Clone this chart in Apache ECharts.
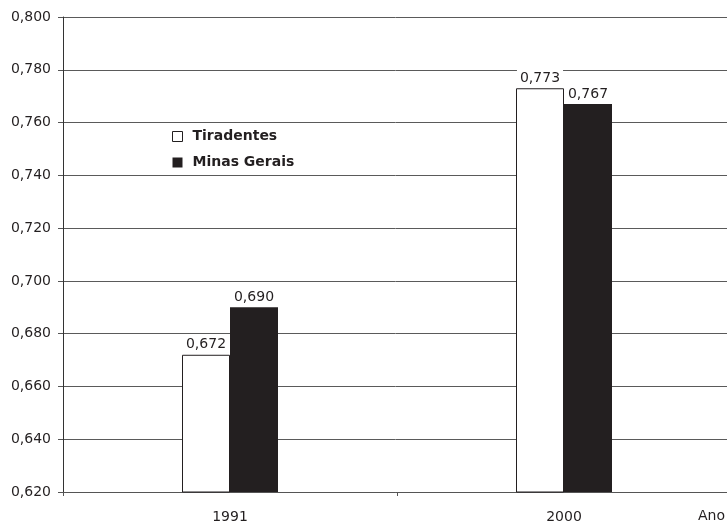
<!DOCTYPE html>
<html>
<head>
<meta charset="utf-8">
<script src="https://cdn.jsdelivr.net/npm/echarts@6/dist/echarts.min.js"></script>
<style>
  html, body { margin: 0; padding: 0; background: #fff; }
  #chart { width: 727px; height: 527px; }
</style>
</head>
<body>
<div id="chart"></div>
<script>
// IDHM por ano: Tiradentes x Minas Gerais
const categories = ['1991', '2000'];
const tiradentes = [0.672, 0.773];
const minasGerais = [0.690, 0.767];
const yMin = 0.62;
const yMax = 0.80;
const yStep = 0.02;

const ink = '#231f20';
const font = 'DejaVu Sans';
const fmt = v => v.toFixed(3).replace('.', ',');

const valueLabel = {
  show: true,
  position: 'top',
  distance: 2,
  color: ink,
  fontFamily: font,
  fontSize: 14,
  backgroundColor: '#fff',
  padding: [3, 3, 1, 3],
  formatter: p => fmt(p.value)
};

const chart = echarts.init(document.getElementById('chart'));
chart.setOption({
  animation: false,
  backgroundColor: '#fff',
  grid: { left: 63, width: 668, top: 17, bottom: 35, containLabel: false, outerBoundsMode: 'none' },
  legend: {
    orient: 'vertical',
    left: 167,
    top: 124,
    itemGap: 11,
    itemWidth: 10,
    itemHeight: 10,
    icon: 'rect',
    textStyle: { color: ink, fontFamily: font, fontSize: 14, fontWeight: 'bold', lineHeight: 15, padding: [0, 0, 0, 5] },
    data: [
      { name: 'Tiradentes', itemStyle: { color: '#fff', borderColor: ink, borderWidth: 1 } },
      { name: 'Minas Gerais', itemStyle: { color: ink } }
    ]
  },
  xAxis: {
    type: 'category',
    data: categories,
    axisLine: { lineStyle: { color: '#555', width: 1 } },
    axisTick: { show: true, length: 4, lineStyle: { color: '#555' } },
    axisLabel: { color: ink, fontFamily: font, fontSize: 14, margin: 18 },
    splitLine: { show: false }
  },
  yAxis: {
    type: 'value',
    min: yMin,
    max: yMax,
    interval: yStep,
    axisLine: { show: true, lineStyle: { color: '#333', width: 1 } },
    axisTick: { show: true, length: 5, lineStyle: { color: '#555' } },
    axisLabel: { color: ink, fontFamily: font, fontSize: 14, margin: 12, formatter: fmt },
    splitLine: { show: true, lineStyle: { color: '#5a5a5a', width: 1 } }
  },
  graphic: [
    { type: 'text', left: 698, top: 509, style: { text: 'Ano', fill: ink, font: '14px "DejaVu Sans"' } }
  ],
  series: [
    {
      name: 'Tiradentes',
      type: 'bar',
      data: tiradentes,
      barWidth: 48,
      barGap: '0%',
      itemStyle: { color: '#fff', borderColor: ink, borderWidth: 1 },
      label: valueLabel
    },
    {
      name: 'Minas Gerais',
      type: 'bar',
      data: minasGerais,
      barWidth: 48,
      barGap: '0%',
      itemStyle: { color: ink },
      label: valueLabel
    }
  ]
});
</script>
</body>
</html>
